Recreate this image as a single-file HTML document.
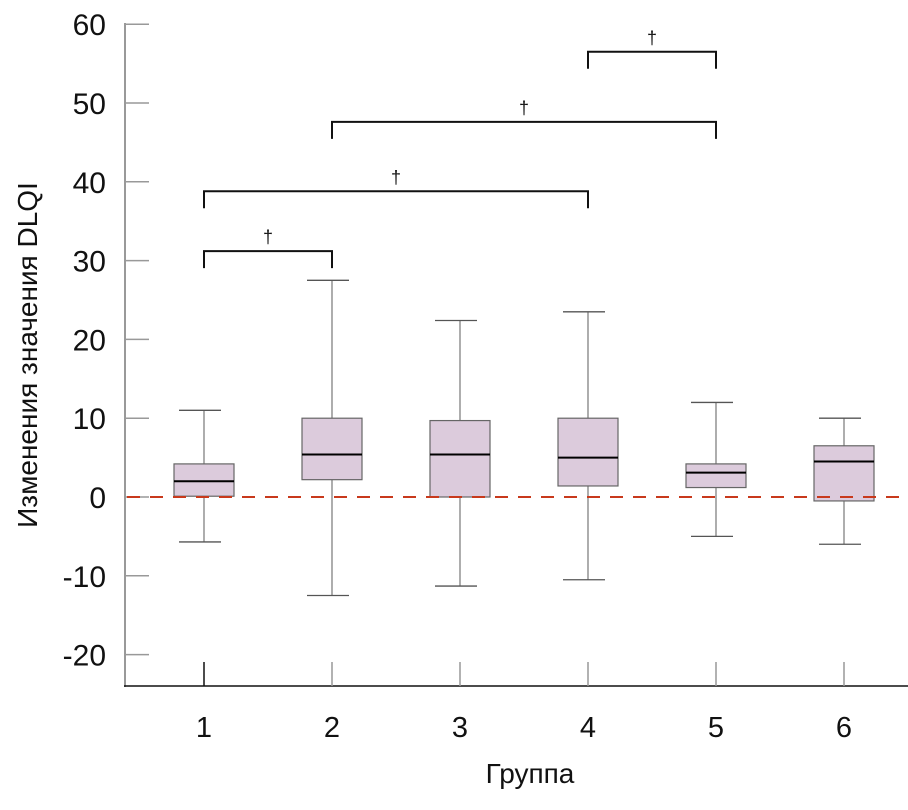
<!DOCTYPE html>
<html><head><meta charset="utf-8"><style>
body{margin:0;background:#fff}
text{font-family:"Liberation Sans",sans-serif}
</style></head><body>
<svg id="chart" width="908" height="805" xmlns="http://www.w3.org/2000/svg">
<g id="axes"></g><g id="marks"></g>
<text transform="translate(37,355) rotate(-90)" text-anchor="middle" font-size="28" fill="#111">Изменения значения DLQI</text>
<text x="530" y="783" text-anchor="middle" font-size="28" fill="#111">Группа</text>
</svg>
<script>
const categories=["1","2","3","4","5","6"];
const q1=[0.1,2.2,0,1.4,1.2,-0.5];
const median=[2,5.4,5.4,5,3.1,4.5];
const q3=[4.2,10,9.7,10,4.2,6.5];
const whiskerLow=[-5.7,-12.5,-11.3,-10.5,-5,-6];
const whiskerHigh=[11,27.5,22.4,23.5,12,10];
const yTicks=[60,50,40,30,20,10,0,-10,-20];
const brackets=[[0,1,31.2],[0,3,38.8],[1,4,47.6],[3,4,56.5]];
const NS="http://www.w3.org/2000/svg";
const y=v=>497-v*7.88;
const x=i=>204+i*128;
const axes=document.getElementById('axes'),marks=document.getElementById('marks');
function mk(tag,a,parent){const e=document.createElementNS(NS,tag);for(const k in a)e.setAttribute(k,a[k]);parent.appendChild(e);return e;}
let e;
e=mk('line',{x1:125,y1:23,x2:125,y2:687,stroke:'#999','stroke-width':2},axes);


e=mk('line',{x1:124,y1:686,x2:908,y2:686,stroke:'#111','stroke-width':1.5},axes);


yTicks.forEach(t=>{
 e=mk('line',{x1:125,y1:y(t),x2:149,y2:y(t),stroke:'#999','stroke-width':1.5},axes);
 
 
 e=mk('text',{x:106,y:y(t)+11,'text-anchor':'end','font-size':30,fill:'#111'},axes);
 e.textContent=t;
 
 
});
categories.forEach((c,i)=>{
 e=mk('line',{x1:x(i),y1:662,x2:x(i),y2:686,stroke:i==0?'#111':'#999','stroke-width':1.5},axes);
 
 
 e=mk('text',{x:x(i),y:737,'text-anchor':'middle','font-size':29,fill:'#111'},axes);
 e.textContent=c;
 
 
});
categories.forEach((c,i)=>{
 const cx=x(i);
 e=mk('line',{x1:cx,y1:y(whiskerHigh[i]),x2:cx,y2:y(whiskerLow[i]),stroke:'#777','stroke-width':1.2},marks);
 
 
 [whiskerHigh[i],whiskerLow[i]].forEach(v=>{
  e=mk('line',{x1:cx-25,y1:y(v),x2:cx+17,y2:y(v),stroke:'#555','stroke-width':1.3},marks);
  
  
 });
 e=mk('rect',{x:cx-30,y:y(q3[i]),width:60,height:y(q1[i])-y(q3[i]),fill:'#dccbdc',stroke:'#666','stroke-width':1.2},marks);
 
 
 e=mk('line',{x1:cx-30,y1:y(median[i]),x2:cx+30,y2:y(median[i]),stroke:'#000','stroke-width':2},marks);
 
 
});
e=mk('line',{x1:127,y1:y(0),x2:908,y2:y(0),stroke:'#c8391c','stroke-width':2,'stroke-dasharray':'13,10'},marks);


brackets.forEach(b=>{
 const x1=x(b[0]),x2=x(b[1]),yy=y(b[2]);
 e=mk('path',{d:`M${x1},${yy+17}V${yy}H${x2}V${yy+17}`,fill:'none',stroke:'#111','stroke-width':2},marks);
 
 
 e=mk('text',{x:(x1+x2)/2,y:yy-8,'text-anchor':'middle','font-size':18,fill:'#111'},marks);
 e.textContent='†';
 
 
});
</script>
</body></html>
